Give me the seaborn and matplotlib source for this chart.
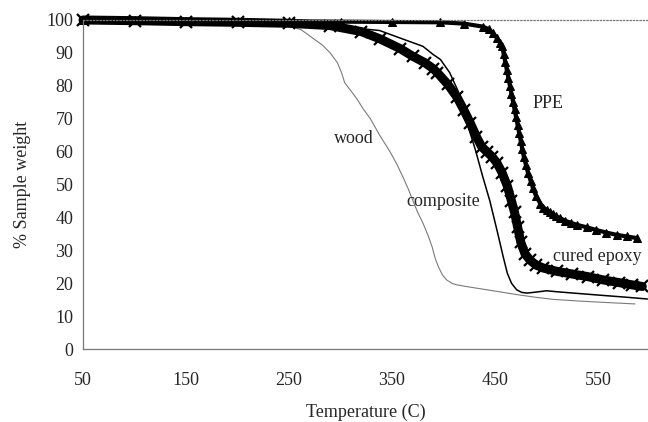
import matplotlib
matplotlib.use('Agg')
import matplotlib.pyplot as plt
import seaborn as sns

# --- data (temperature in C, % sample weight) ---
wood_t = [50, 100, 150, 200, 250, 262, 273, 282, 290, 297, 301, 304, 310, 316, 322, 329,
          338, 348, 355, 361, 366, 370, 375, 380, 385, 389, 392, 395, 399, 403, 408, 413,
          422, 432, 450, 474, 490, 506, 530, 560, 586]
wood_w = [99.6, 99.5, 99.3, 99.0, 98.3, 97.0, 94.5, 92.5, 90.0, 87.0, 84.0, 81.0, 78.5, 76.0, 73.0, 70.0,
          65.0, 60.0, 56.0, 52.0, 48.5, 45.3, 41.5, 38.3, 34.5, 31.0, 27.5, 25.0, 22.5, 21.0, 20.0, 19.5,
          19.0, 18.5, 17.6, 16.4, 15.7, 15.1, 14.6, 14.1, 13.7]

comp_t = [50, 150, 250, 300, 338, 358, 380, 390, 397, 406, 414, 419, 423, 431, 438, 445,
          452, 458, 462, 466, 471, 476, 481, 490, 500, 510, 526, 550, 575, 598]
comp_w = [100.0, 99.6, 99.0, 98.0, 96.8, 94.5, 92.0, 89.5, 88.0, 84.0, 78.5, 74.0, 68.5, 60.5, 52.5, 45.0,
          36.0, 28.0, 23.0, 20.0, 18.0, 17.2, 17.0, 17.3, 17.7, 17.4, 17.0, 16.4, 15.8, 15.2]

epoxy_t = [50, 100, 150, 200, 250, 290, 320, 338, 358, 370, 382, 390, 394, 404, 413, 420,
           426, 432, 437, 442, 447, 452, 457, 462, 466, 469, 472, 475, 479, 484, 490, 497,
           510, 525, 540, 555, 570, 583, 593]
epoxy_w = [100.0, 99.8, 99.5, 99.3, 99.0, 98.3, 96.5, 94.3, 91.3, 89.0, 87.0, 85.2, 84.0, 80.5, 76.6, 72.5,
           68.7, 64.5, 61.5, 60.0, 58.5, 56.5, 53.5, 49.5, 45.0, 41.5, 37.0, 32.5, 29.0, 27.0, 25.5, 24.6,
           23.6, 22.8, 22.0, 21.0, 20.2, 19.5, 19.0]

ppe_t = [50, 100, 150, 200, 250, 300, 350, 397, 420, 438, 444, 448, 452, 455, 457, 458.5,
         460, 461.5, 463, 464.5, 466, 467.5, 469, 470.5, 472, 473.5, 475, 476.5, 478, 480,
         482, 484.5, 487, 490, 494, 497, 500, 503, 506, 509, 513, 518, 524, 530, 539, 548,
         558, 568, 578, 588]
ppe_w = [100.0, 100.0, 99.8, 99.7, 99.6, 99.5, 99.4, 99.3, 98.9, 98.0, 97.2, 96.0, 94.5, 93.0, 92.0, 89.6,
         87.2, 84.8, 82.4, 80.0, 77.6, 75.2, 72.8, 70.4, 68.0, 65.6, 63.2, 60.8, 58.4, 56.0,
         53.6, 51.2, 48.8, 46.4, 44.2, 43.0, 42.3, 41.6, 41.0, 40.4, 39.8, 39.0, 38.3, 37.7, 37.0, 36.2,
         35.4, 34.7, 34.2, 33.7]

x_ticks = [50, 150, 250, 350, 450, 550]
y_ticks = [0, 10, 20, 30, 40, 50, 60, 70, 80, 90, 100]

# label positions (data coords)
labels = {'PPE': (501, 74.5), 'wood': (313, 64), 'composite': (400, 44.7), 'cured epoxy': (549, 28.2)}

sns.set_style('white')
plt.rcParams['font.family'] = ['Liberation Serif', 'DejaVu Serif']
plt.rcParams['font.size'] = 13

fig = plt.figure(figsize=(6.48, 4.22), dpi=100)
ax = fig.add_axes([83 / 648, 1 - 349 / 422, 566.5 / 648, 329 / 422])

sns.lineplot(x=wood_t, y=wood_w, ax=ax, color='#7a7a7a', lw=0.8, sort=False, estimator=None)
sns.lineplot(x=epoxy_t, y=epoxy_w, ax=ax, color='black', lw=6.5, sort=False, estimator=None,
             marker='x', markersize=8, markeredgewidth=1.6, markeredgecolor='black', clip_on=False)
sns.lineplot(x=ppe_t, y=ppe_w, ax=ax, color='black', lw=3, sort=False, estimator=None,
             marker='^', markersize=6, markeredgecolor='black', markerfacecolor='black', clip_on=False)
sns.lineplot(x=comp_t, y=comp_w, ax=ax, color='black', lw=1.1, sort=False, estimator=None)

for txt, (tx, ty) in labels.items():
    ax.text(tx, ty, txt, ha='center', va='center', fontsize=13)

ax.set_xlim(50, 600)
ax.set_ylim(0, 100)
ax.set_xticks(x_ticks)
ax.set_yticks(y_ticks)
ax.tick_params(axis='x', direction='inout', length=5, width=0.8, color='#666666', pad=14, labelsize=13)
ax.tick_params(axis='y', direction='out', length=3, width=0.8, color='#666666', pad=4, labelsize=13)

for side in ['left', 'bottom', 'top']:
    ax.spines[side].set_color('#777777')
    ax.spines[side].set_linewidth(0.9)
ax.spines['top'].set_linestyle(':')
ax.spines['right'].set_visible(False)

ax.set_xlabel('Temperature (C)', fontsize=13)
ax.set_ylabel('% Sample weight', fontsize=13)
ax.xaxis.set_label_coords(0.5, -0.165)
ax.yaxis.set_label_coords(-0.092, 0.5)

fig.savefig('out.png', dpi=100)
